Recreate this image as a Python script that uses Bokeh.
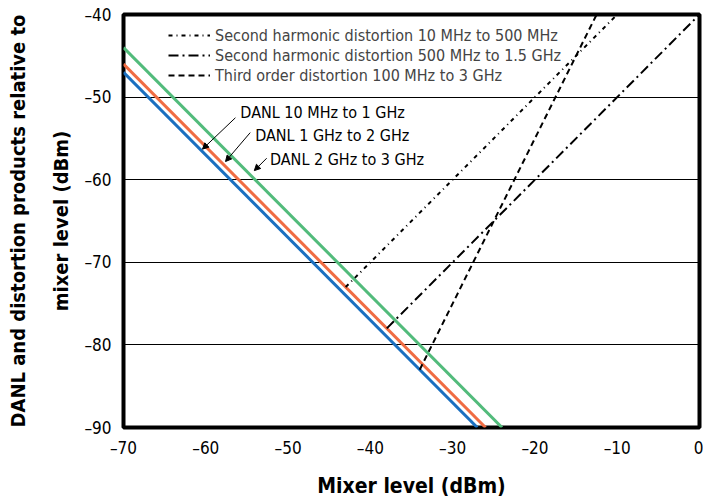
from bokeh.plotting import figure
from bokeh.models import Legend, LegendItem, Arrow, NormalHead, Range1d, FixedTicker, Label
from bokeh.embed import file_html
from bokeh.resources import INLINE

FONT = "DejaVu Sans Condensed"

# ---- data ----
x_ticks = [-70, -60, -50, -40, -30, -20, -10, 0]
x_tick_labels = ["–70", "–60", "–50", "–40", "–30", "–20", "–10", "0"]
y_ticks = [-90, -80, -70, -60, -50, -40]
y_tick_labels = ["–90", "–80", "–70", "–60", "–50", "–40"]

danl_10m_1g_x = [-70, -27]
danl_10m_1g_y = [-47, -90]
danl_1g_2g_x = [-70, -26]
danl_1g_2g_y = [-46, -90]
danl_2g_3g_x = [-70, -24]
danl_2g_3g_y = [-44, -90]

shd_10m_500m_x = [-43, -10]
shd_10m_500m_y = [-73, -40]
shd_500m_1g5_x = [-38, 0]
shd_500m_1g5_y = [-78, -40]
tod_100m_3g_x = [-34, -12.5]
tod_100m_3g_y = [-83, -40]

legend_labels = ["Second harmonic distortion 10 MHz to 500 MHz",
                 "Second harmonic distortion 500 MHz to 1.5 GHz",
                 "Third order distortion 100 MHz to 3 GHz"]
danl_labels = ["DANL 10 MHz to 1 GHz", "DANL 1 GHz to 2 GHz", "DANL 2 GHz to 3 GHz"]
danl_label_pos = [(-55.8, -51.9), (-54.0, -54.7), (-52.2, -57.6)]
danl_arrows = [((-56.4, -52.5), (-60.4, -56.3)),
               ((-54.6, -54.3), (-57.6, -57.8)),
               ((-52.6, -57.4), (-54.1, -58.9))]

BLUE = "#1a6fc0"
ORANGE = "#f06c43"
GREEN = "#52bb7b"

p = figure(width=703, height=500, output_backend="svg", toolbar_location=None,
           x_range=Range1d(-70, 0), y_range=Range1d(-90, -40),
           min_border_left=123, min_border_right=4, min_border_top=14, min_border_bottom=73)

p.outline_line_color = "black"
p.outline_line_width = 4
p.background_fill_color = "white"
p.border_fill_color = "white"

p.xgrid.grid_line_color = None
p.ygrid.grid_line_color = "black"
p.ygrid.grid_line_width = 1
p.ygrid.ticker = FixedTicker(ticks=y_ticks)

for ax in (p.xaxis[0], p.yaxis[0]):
    ax.axis_line_color = None
    ax.major_tick_line_color = None
    ax.minor_tick_line_color = None
    ax.major_tick_out = 0
    ax.major_tick_in = 0
    ax.major_label_text_font = FONT
    ax.major_label_text_font_size = "17px"
    ax.major_label_text_color = "black"
    ax.axis_label_text_font = FONT
    ax.axis_label_text_font_style = "bold"
    ax.axis_label_text_color = "black"

p.xaxis.ticker = FixedTicker(ticks=x_ticks)
p.yaxis.ticker = FixedTicker(ticks=y_ticks)
p.xaxis.major_label_overrides = dict(zip(x_ticks, x_tick_labels))
p.yaxis.major_label_overrides = dict(zip(y_ticks, y_tick_labels))
p.xaxis.major_label_standoff = 10
p.yaxis.major_label_standoff = 12
p.xaxis.axis_label = "Mixer level (dBm)"
p.xaxis.axis_label_text_font_size = "21px"
p.xaxis.axis_label_standoff = 13
p.yaxis.axis_label = "DANL and distortion products relative to\nmixer level (dBm)"
p.yaxis.axis_label_text_font_size = "20px"
p.yaxis.axis_label_standoff = 8
p.yaxis.axis_label_text_line_height = 1.8

# DANL lines
p.line(danl_10m_1g_x, danl_10m_1g_y, line_color=BLUE, line_width=3)
p.line(danl_1g_2g_x, danl_1g_2g_y, line_color=ORANGE, line_width=3)
p.line(danl_2g_3g_x, danl_2g_3g_y, line_color=GREEN, line_width=3)

# distortion lines
r1 = p.line(shd_10m_500m_x, shd_10m_500m_y, line_color="black", line_width=2, line_dash="4 4 1 4")
r2 = p.line(shd_500m_1g5_x, shd_500m_1g5_y, line_color="black", line_width=2, line_dash="10 4 2 4")
r3 = p.line(tod_100m_3g_x, tod_100m_3g_y, line_color="black", line_width=2, line_dash="6 4")

legend = Legend(items=[LegendItem(label=legend_labels[0], renderers=[r1]),
                       LegendItem(label=legend_labels[1], renderers=[r2]),
                       LegendItem(label=legend_labels[2], renderers=[r3])],
                location=(45, 342), padding=0, margin=0, spacing=0,
                glyph_width=42, glyph_height=20, label_height=20, label_standoff=5,
                label_text_font=FONT, label_text_font_size="16px",
                border_line_color=None, background_fill_alpha=0)
p.add_layout(legend, "center")

for (tx, ty), lab in zip(danl_label_pos, danl_labels):
    p.add_layout(Label(x=tx, y=ty, text=lab, text_font=FONT, text_font_size="16px",
                       text_baseline="middle", text_align="left", text_color="black"))

for (x0, y0), (x1, y1) in danl_arrows:
    p.add_layout(Arrow(x_start=x0, y_start=y0, x_end=x1, y_end=y1, line_width=1,
                       line_color="black",
                       end=NormalHead(size=6, fill_color="black", line_color="black")))

open("out.html", "w").write(file_html(p, INLINE))
